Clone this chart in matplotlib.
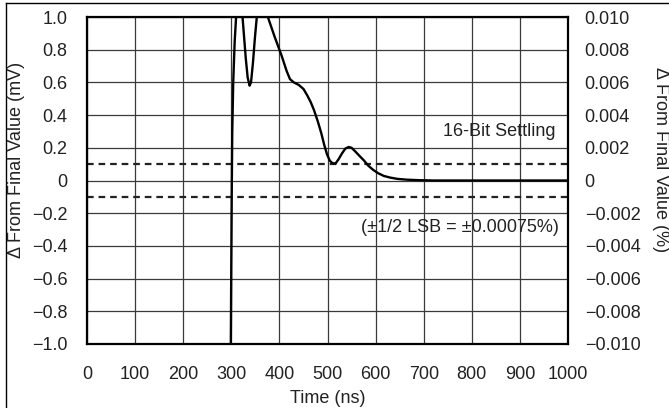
import matplotlib
matplotlib.use("Agg")
from matplotlib import pyplot as plt
from matplotlib.lines import Line2D
from matplotlib.ticker import FixedLocator, FixedFormatter

plt.rcParams["font.family"] = ["Liberation Sans", "DejaVu Sans"]
plt.rcParams["axes.unicode_minus"] = True

# settling response
time_ns = [292, 299, 300, 301, 302, 304, 307, 310, 314, 318, 322, 326, 330, 334,
           338, 341, 345, 349, 353, 358, 366, 372, 376, 390, 405, 415, 422, 430,
           440, 450, 458, 465, 472, 480, 487, 493, 499, 505, 511, 517, 523, 530,
           537, 544, 550, 557, 565, 575, 585, 595, 605, 617, 630, 645, 665, 690,
           720, 1000]
delta_mv = [-1.4, -1.0, -0.5, -0.05, 0.3, 0.6, 0.85, 1.0, 1.15, 1.15, 1.05, 0.9,
            0.75, 0.63, 0.58, 0.6, 0.72, 0.87, 1.0, 1.1, 1.12, 1.06, 1.0, 0.88,
            0.76, 0.67, 0.62, 0.6, 0.585, 0.56, 0.52, 0.48, 0.43, 0.36, 0.29,
            0.22, 0.16, 0.12, 0.105, 0.105, 0.13, 0.165, 0.195, 0.205, 0.2, 0.18,
            0.155, 0.125, 0.09, 0.065, 0.045, 0.028, 0.018, 0.01, 0.005, 0.002,
            0.0, 0.0]

band_mv = [0.1, -0.1]

x_ticks = [0, 100, 200, 300, 400, 500, 600, 700, 800, 900, 1000]
left_ticks = [1.0, 0.8, 0.6, 0.4, 0.2, 0.0, -0.2, -0.4, -0.6, -0.8, -1.0]
left_labels = ["1.0", "0.8", "0.6", "0.4", "0.2", "0", "\u22120.2", "\u22120.4",
               "\u22120.6", "\u22120.8", "\u22121.0"]
right_ticks = [0.010, 0.008, 0.006, 0.004, 0.002, 0.0, -0.002, -0.004, -0.006,
               -0.008, -0.010]
right_labels = ["0.010", "0.008", "0.006", "0.004", "0.002", "0", "\u22120.002",
                "\u22120.004", "\u22120.006", "\u22120.008", "\u22120.010"]

W, H = 669, 408
fig = plt.figure(figsize=(W / 100, H / 100), dpi=100)
ax = fig.add_axes([87 / W, 1 - 344 / H, (568 - 87) / W, (344 - 17) / H])

fs = 13
grid_color = "#3a3a3a"

ax.set_xlim(0, 1000)
ax.set_ylim(-1.0, 1.0)
ax.xaxis.set_major_locator(FixedLocator(x_ticks))
ax.yaxis.set_major_locator(FixedLocator(left_ticks))
ax.yaxis.set_major_formatter(FixedFormatter(left_labels))
ax.grid(True, color=grid_color, linewidth=0.9)
ax.set_axisbelow(True)
ax.tick_params(axis="both", length=0, labelsize=fs, colors="#222222")
ax.tick_params(axis="x", pad=16)
ax.tick_params(axis="y", pad=14)
for sp in ax.spines.values():
    sp.set_linewidth(1.6)
    sp.set_color("black")

for y in band_mv:
    ax.axhline(y, color="#222222", linewidth=1.6, linestyle=(0, (3, 2.2)))

ax.plot(time_ns, delta_mv, color="black", linewidth=1.7, zorder=5)

ax.text(973, 0.3, "16-Bit Settling", ha="right", va="center", fontsize=fs,
        color="#222222")
ax.text(980, -0.29, "(\u00b11/2 LSB = \u00b10.00075%)", ha="right", va="center",
        fontsize=fs, color="#222222")

ax.set_xlabel("Time (ns)", fontsize=fs, color="#222222", labelpad=5)

ax2 = ax.twinx()
ax2.set_ylim(-0.010, 0.010)
ax2.yaxis.set_major_locator(FixedLocator(right_ticks))
ax2.yaxis.set_major_formatter(FixedFormatter(right_labels))
ax2.tick_params(axis="y", length=0, labelsize=fs, colors="#222222", pad=12)
for sp in ax2.spines.values():
    sp.set_visible(False)

fig.text(17 / W, 1 - 160 / H, "\u0394 From Final Value (mV)", rotation=90,
         ha="center", va="center", fontsize=fs, color="#222222")
fig.text(661 / W, 1 - 160 / H, "\u0394 From Final Value (%)", rotation=270,
         ha="center", va="center", fontsize=fs, color="#222222")

# outer frame: only top and left edges are inside the image
fig.add_artist(Line2D([6.5 / W, 6.5 / W], [0, 1 - 3 / H], transform=fig.transFigure,
                      color="black", linewidth=1.0))
fig.add_artist(Line2D([6.5 / W, 1], [1 - 3 / H, 1 - 3 / H], transform=fig.transFigure,
                      color="black", linewidth=1.0))

fig.savefig("out.png", dpi=100)
plt.close(fig)
